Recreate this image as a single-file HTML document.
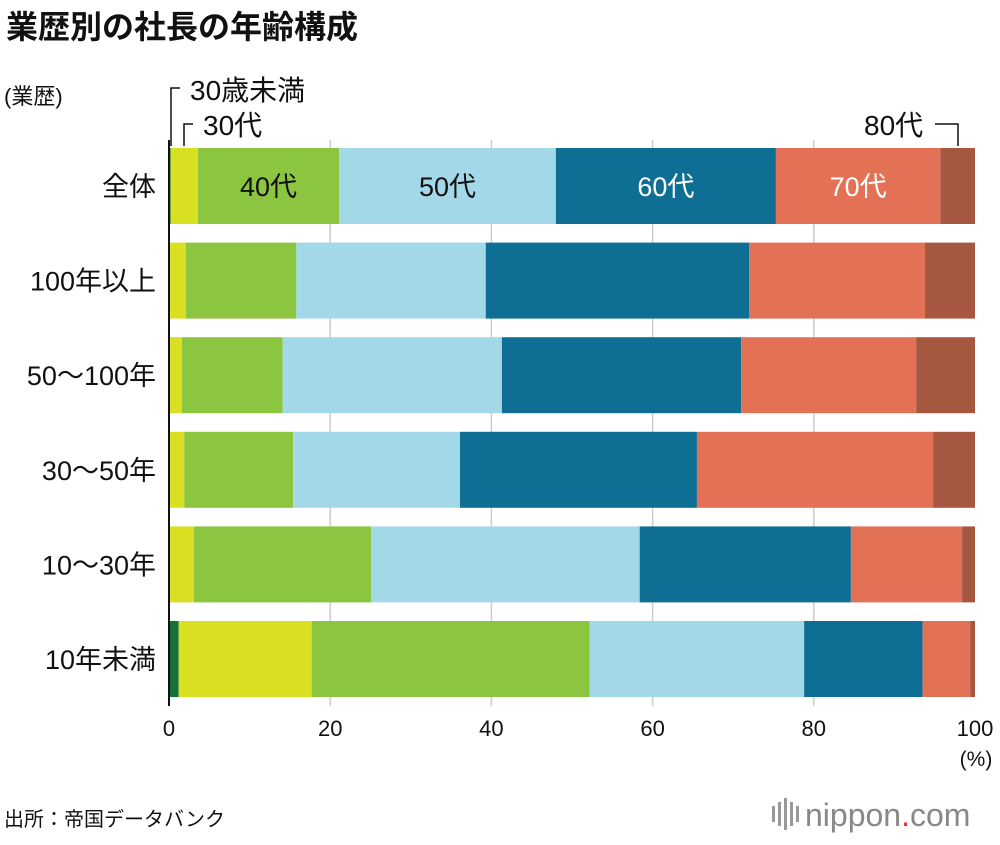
<!DOCTYPE html>
<html><head><meta charset="utf-8">
<style>
body{margin:0;background:#fff;font-family:"Liberation Sans","Noto Sans CJK JP",sans-serif;}
svg text{font-family:"Liberation Sans","Noto Sans CJK JP",sans-serif;}
</style></head>
<body>
<svg id="chart" width="1000" height="840" xmlns="http://www.w3.org/2000/svg">
<text x="6" y="38" font-size="32" font-weight="bold" fill="#111">業歴別の社長の年齢構成</text>
<text x="4" y="104" font-size="22" fill="#111">(業歴)</text>
<g id="grid"></g>
<g id="bars"></g>
<g id="labels"></g>
<g id="ticks"></g>
<line x1="169" y1="140" x2="169" y2="706" stroke="#111" stroke-width="2"/>
<text x="976" y="766" font-size="21" text-anchor="middle" fill="#111">(%)</text>
<g font-size="28" fill="#111">
<polyline points="171,146 171,88 180,88" fill="none" stroke="#111" stroke-width="1.5"/>
<text x="190" y="100">30歳未満</text>
<polyline points="184,146 184,124 193,124" fill="none" stroke="#111" stroke-width="1.5"/>
<text x="203" y="135">30代</text>
<polyline points="935,124 958,124 958,146" fill="none" stroke="#111" stroke-width="1.5"/>
<text x="864" y="135">80代</text>
</g>
<text x="4" y="826" font-size="20" fill="#111">出所：帝国データバンク</text>
<g>
<rect x="772" y="806" width="3" height="16" fill="#999"/><rect x="778" y="802" width="3" height="24" fill="#999"/><rect x="784" y="798" width="3" height="32" fill="#999"/><rect x="790" y="802" width="3" height="24" fill="#999"/><rect x="796" y="806" width="3" height="16" fill="#999"/>
<text x="805" y="826" font-size="32" fill="#888">nippon<tspan fill="#e0302c">.</tspan>com</text>
</g>
</svg>
<script>
const categories=["全体","100年以上","50〜100年","30〜50年","10〜30年","10年未満"];
const ageGroups=["30歳未満","30代","40代","50代","60代","70代","80代"];
const under30=[0.2,0.1,0.1,0.1,0.1,1.2];
const s30=[3.4,2.0,1.5,1.8,3.0,16.5];
const s40=[17.5,13.7,12.5,13.5,22.0,34.5];
const s50=[26.9,23.5,27.2,20.7,33.3,26.6];
const s60=[27.3,32.7,29.7,29.4,26.2,14.7];
const s70=[20.4,21.8,21.7,29.3,13.8,5.9];
const s80=[4.3,6.2,7.3,5.2,1.6,0.6];
const ticks=[0,20,40,60,80,100];
const series=[under30,s30,s40,s50,s60,s70,s80];
const colors=["#17703a","#d8e021","#8cc540","#a3d8e8","#0e6e94","#e37156","#a65740"];
const x0=169,x1=975,yTop=148,pitch=94.6,bh=76;
const xs=v=>x0+(x1-x0)*v/100;
const ys=i=>yTop+i*pitch;
const NS="http://www.w3.org/2000/svg";
const mk=(t,a)=>{const e=document.createElementNS(NS,t);for(const k in a)e.setAttribute(k,a[k]);return e;};
const grid=document.getElementById('grid'),bars=document.getElementById('bars'),labels=document.getElementById('labels'),tk=document.getElementById('ticks');
ticks.forEach(t=>{
  if(t>0&&t<100){const l=mk('line',{x1:xs(t),x2:xs(t),y1:140,y2:706,stroke:'#ccc','stroke-width':1.5});
  
  
  grid.appendChild(l);}
  const tx=mk('text',{x:xs(t),y:736,'font-size':22,'text-anchor':'middle',fill:'#111'});tx.textContent=t;
  
  
  tk.appendChild(tx);
});
categories.forEach((c,i)=>{
  let acc=0;const y=ys(i);
  series.forEach((s,j)=>{
    const v=s[i];
    const r=mk('rect',{x:xs(acc),y:y,width:xs(acc+v)-xs(acc),height:bh,fill:colors[j]});
    
    
    bars.appendChild(r);
    if(i===0&&j>=2&&j<=5){
      const t=mk('text',{x:(xs(acc)+xs(acc+v))/2,y:y+bh/2+10,'font-size':27,'text-anchor':'middle',fill:(j===4||j===5)?'#fff':'#111'});
      t.textContent=ageGroups[j];
      
      
      bars.appendChild(t);
    }
    acc+=v;
  });
  const lt=mk('text',{x:156,y:y+bh/2+10,'font-size':27,'text-anchor':'end',fill:'#111'});
  lt.textContent=c;
  
  
  labels.appendChild(lt);
});
</script>
</body></html>
